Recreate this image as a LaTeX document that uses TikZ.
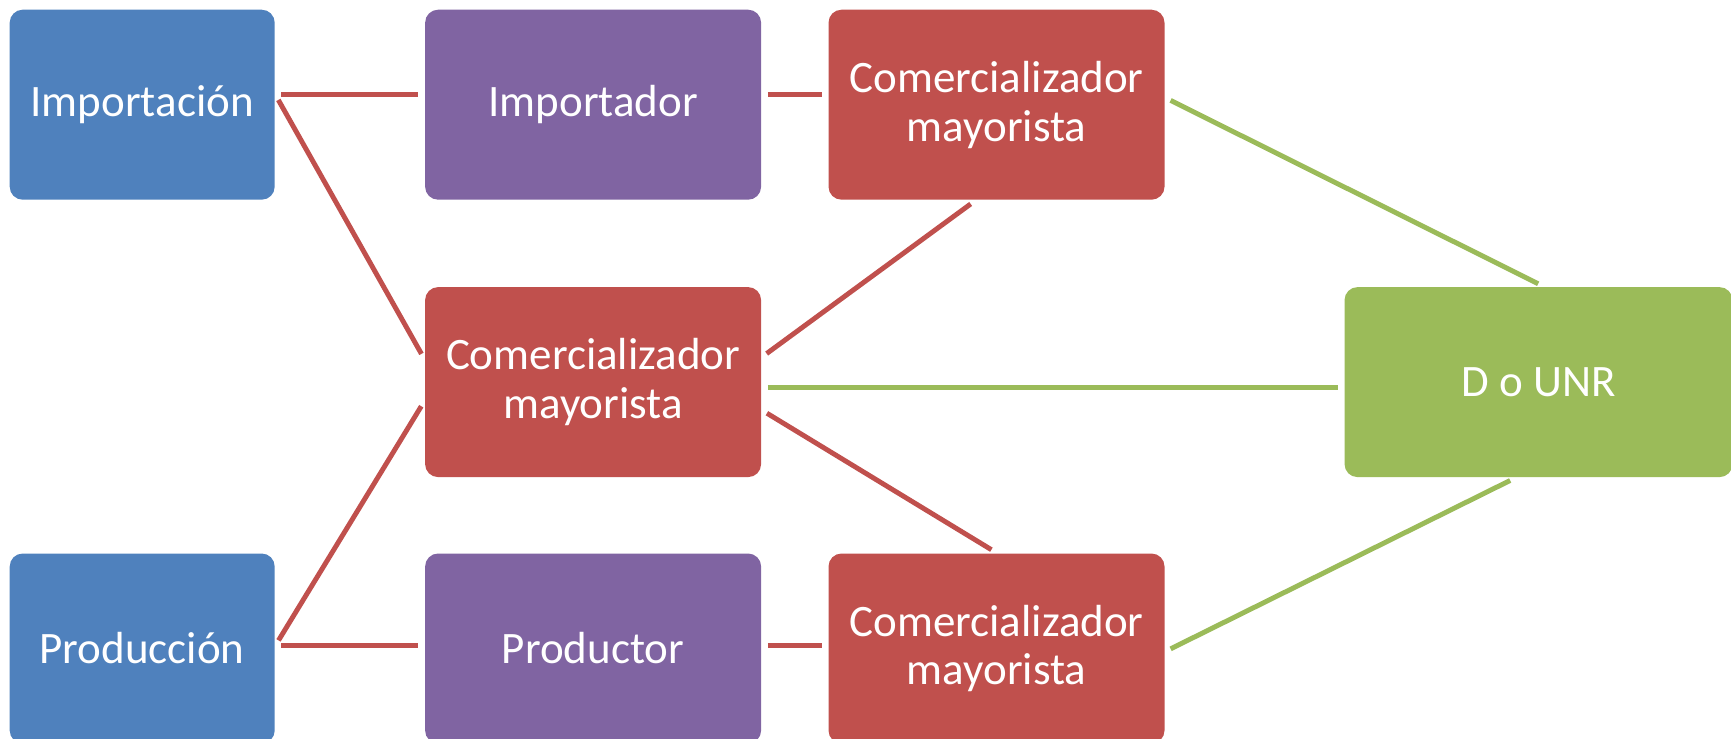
\documentclass[tikz,border=0pt]{standalone}
\usepackage{fontspec}
\setmainfont{Carlito}
\usepackage{tikz}
\usetikzlibrary{%
  calc,
  positioning,
}
\definecolor{boxblue}{HTML}{4F81BD}
\definecolor{boxpurple}{HTML}{8064A2}
\definecolor{boxred}{HTML}{C0504D}
\definecolor{boxgreen}{HTML}{9BBB59}
\tikzset{
  stage/.style = {
    rectangle, rounded corners = 1.3mm,
    minimum height = 1.9cm, inner sep = 0pt,
    text = white, align = center,
    font = \fontsize{12.8}{13.9}\selectfont,
  },
  redlink/.style = {
    draw = boxred, line width = 1.4pt,
    shorten <= 0.6mm, shorten >= 0.6mm,
  },
  greenlink/.style = {
    redlink, draw = boxgreen,
  },
}

\begin{document}
\begin{tikzpicture}
        \useasboundingbox (0,0) rectangle (17.31,-7.39);

        \node[
          stage, fill = boxblue,
          minimum width = 2.65cm,
          anchor = north west,
        ] (imp) at (0.09,-0.09) {Importación};

        \node[
          stage, fill = boxpurple,
          minimum width = 3.36cm,
          right = 1.49cm of imp,
        ] (importador) {Importador};

        \node[
          stage, fill = boxred,
          minimum width = 3.36cm,
          right = 0.66cm of importador,
        ] (comtop) {Comercializador\\mayorista};

        \node[
          stage, fill = boxred,
          minimum width = 3.36cm,
          below = 0.86cm of importador,
        ] (commid) {Comercializador\\mayorista};

        \node[
          stage, fill = boxpurple,
          minimum width = 3.36cm,
          below = 0.75cm of commid,
        ] (productor) {Productor};

        \node[
          stage, fill = boxblue,
          minimum width = 2.65cm,
          left = 1.49cm of productor,
        ] (prod) {Producción};

        \node[
          stage, fill = boxred,
          minimum width = 3.36cm,
          right = 0.66cm of productor,
        ] (combot) {Comercializador\\mayorista};

        \node[
          stage, fill = boxgreen,
          minimum width = 3.88cm,
          right = 5.82cm of commid,
        ] (dunr) {D o UNR};

        \draw[redlink] ([yshift=1mm]imp.east) -- ([yshift=1mm]importador.west);
        \draw[redlink] ([yshift=1mm]imp.east) -- ([yshift=2.3mm]commid.west);
        \draw[redlink] ([yshift=1mm]importador.east) -- ([yshift=1mm]comtop.west);
        \draw[redlink] ([yshift=2.5mm]commid.east) -- ([xshift=-2.1mm]comtop.south);
        \draw[redlink] ([yshift=-2.8mm]commid.east) -- (combot.north);
        \draw[redlink] ([yshift=0.3mm]prod.east) -- ([yshift=-1.9mm]commid.west);
        \draw[redlink] ([yshift=0.3mm]prod.east) -- ([yshift=0.3mm]productor.west);
        \draw[redlink] ([yshift=0.3mm]productor.east) -- ([yshift=0.3mm]combot.west);

        \draw[greenlink] ([yshift=-0.5mm]commid.east) -- ([yshift=-0.5mm]dunr.west);
        \draw[greenlink] ([yshift=0.7mm]comtop.east) -- ([xshift=0.5mm]dunr.north);
        \draw[greenlink] ([yshift=-0.3mm]combot.east) -- ([xshift=-2.3mm]dunr.south);
\end{tikzpicture}
\end{document}
